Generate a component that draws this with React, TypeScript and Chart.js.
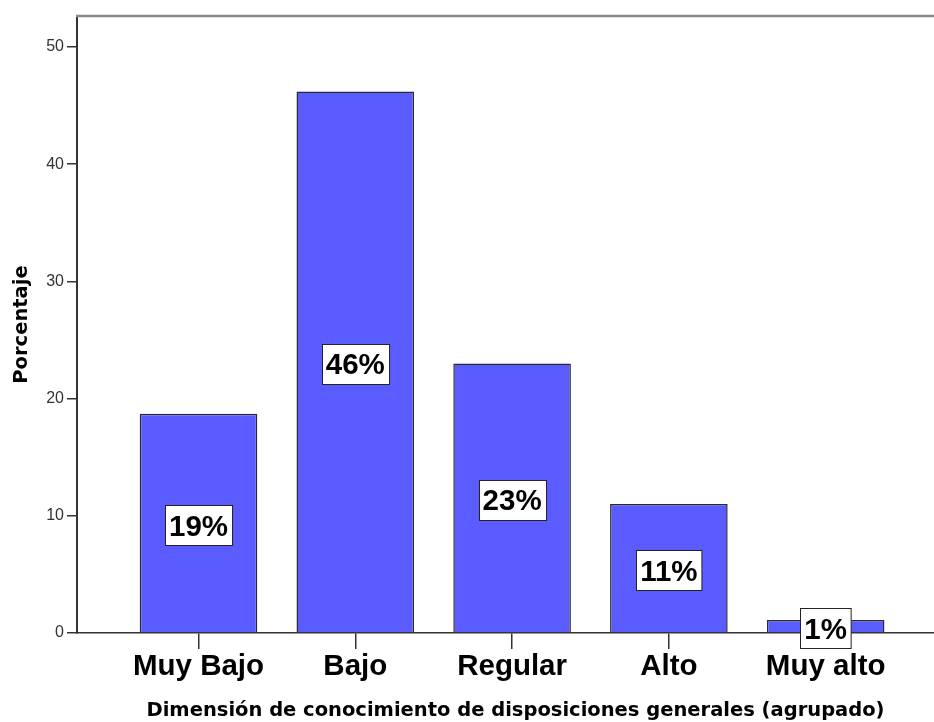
import React, { useEffect, useRef } from "react";
import { Chart, registerables } from "chart.js";

Chart.register(...registerables);

const categories = ["Muy Bajo", "Bajo", "Regular", "Alto", "Muy alto"];
const percentages = [18.7, 46.2, 23.0, 11.0, 1.1];
const valueLabels = ["19%", "46%", "23%", "11%", "1%"];
const yTicks = [0, 10, 20, 30, 40, 50];
const yMax = 52.65;
const xMin = 0.225;
const xMax = 5.691;
const xTitle = "Dimensión de conocimiento de disposiciones generales (agrupado)";
const yTitle = "Porcentaje";

const frameTop = {
  id: "frameTop",
  afterDraw(chart: any) {
    const { ctx, chartArea } = chart;
    ctx.save();
    ctx.strokeStyle = "#8a8a8a";
    ctx.lineWidth = 2.5;
    ctx.beginPath();
    ctx.moveTo(chartArea.left - 1, chartArea.top);
    ctx.lineTo(chartArea.right, chartArea.top);
    ctx.stroke();
    ctx.restore();
  },
};

const xAxisTitle = {
  id: "xAxisTitle",
  afterDraw(chart: any) {
    const { ctx, chartArea } = chart;
    ctx.save();
    ctx.font = "bold 19.5px 'DejaVu Sans', sans-serif";
    ctx.fillStyle = "#000";
    ctx.textAlign = "center";
    ctx.textBaseline = "alphabetic";
    ctx.fillText(xTitle, (chartArea.left + chartArea.right) / 2 + 10, chart.height - 6);
    ctx.restore();
  },
};

const boxLabels = {
  id: "boxLabels",
  afterDatasetsDraw(chart: any) {
    const { ctx } = chart;
    const meta = chart.getDatasetMeta(0);
    ctx.save();
    ctx.font = "bold 29.5px 'Liberation Sans', Arial, sans-serif";
    meta.data.forEach((el: any, i: number) => {
      const text = valueLabels[i];
      const cx = el.x;
      const cy = (el.y + el.base) / 2 + 2;
      const tw = ctx.measureText(text).width;
      const w = tw + 8;
      const h = 40;
      const x0 = Math.round(cx - w / 2) + 0.5;
      const y0 = Math.round(cy - h / 2) + 0.5;
      ctx.fillStyle = "#ffffff";
      ctx.fillRect(x0, y0, w, h);
      ctx.strokeStyle = "#222";
      ctx.lineWidth = 1;
      ctx.strokeRect(x0, y0, w, h);
      ctx.fillStyle = "#000";
      ctx.textAlign = "center";
      ctx.textBaseline = "alphabetic";
      ctx.fillText(text, cx, cy + 10.5);
    });
    ctx.restore();
  },
};

export default function App() {
  const ref = useRef<HTMLCanvasElement | null>(null);
  useEffect(() => {
    document.body.style.margin = "0";
    if (!ref.current) return;
    const chart = new Chart(ref.current, {
      type: "bar",
      data: {
        datasets: [
          {
            data: percentages.map((v, i) => ({ x: i + 1, y: v })),
            backgroundColor: "#5b5cff",
            borderColor: "#2a2a2a",
            borderWidth: 1.5,
            categoryPercentage: 1,
            barPercentage: 0.75,
          },
        ],
      },
      options: {
        responsive: false,
        animation: false,
        layout: { padding: { top: 16, left: 0, right: 0, bottom: 0 } },
        plugins: { legend: { display: false }, tooltip: { enabled: false } },
        scales: {
          x: {
            type: "linear",
            min: xMin,
            max: xMax,
            offset: false,
            afterFit(s: any) {
              s.height = 89;
            },
            border: { color: "#333", width: 1.5 },
            grid: {
              offset: false,
              drawOnChartArea: false,
              drawTicks: true,
              tickLength: 16,
              color: "#333",
              lineWidth: 1.5,
            },
            ticks: {
              stepSize: 1,
              includeBounds: false,
              autoSkip: false,
              maxRotation: 0,
              padding: 0,
              color: "#000",
              font: { family: "'Liberation Sans', Arial, sans-serif", weight: "bold", size: 29.5 },
              callback: (v: any) => (Number.isInteger(v) ? categories[v - 1] ?? "" : ""),
            },
            title: { display: false },
          },
          y: {
            min: 0,
            max: yMax,
            afterFit(s: any) {
              s.width = 77;
            },
            afterBuildTicks(s: any) {
              s.ticks = yTicks.map((v) => ({ value: v }));
            },
            border: { color: "#333", width: 2 },
            grid: {
              drawOnChartArea: false,
              drawTicks: true,
              tickLength: 10,
              color: "#333",
              lineWidth: 1.5,
            },
            ticks: {
              padding: 3,
              color: "#333",
              font: { family: "'Liberation Sans', Arial, sans-serif", size: 16 },
            },
            title: {
              display: true,
              text: yTitle,
              color: "#000",
              font: { family: "'DejaVu Sans', sans-serif", weight: "bold", size: 19.5 },
              padding: { top: 10.5, bottom: 0 },
            },
          },
        },
      },
      plugins: [frameTop, boxLabels, xAxisTitle],
    });
    return () => chart.destroy();
  }, []);
  return <canvas ref={ref} width={934} height={722} style={{ display: "block", width: 934, height: 722 }} />;
}
